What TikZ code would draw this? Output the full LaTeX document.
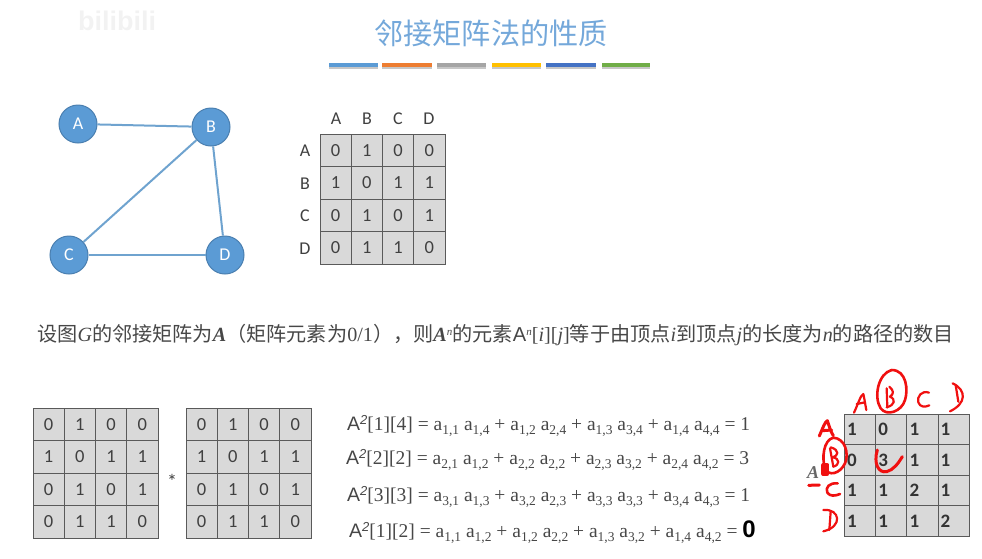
\documentclass[tikz,border=0pt]{standalone}
\usepackage{fontspec}
\setmainfont{Liberation Serif}
\newfontfamily\cjk{Noto Sans CJK SC}
\newfontfamily\lsans{Liberation Sans}
\newfontfamily\carl{Carlito}
\definecolor{nodeblue}{HTML}{5B9BD5}
\definecolor{nodeedge}{HTML}{4A7FB0}
\definecolor{edgeblue}{HTML}{6FA3CF}
\definecolor{titleblue}{HTML}{74A8DA}
\definecolor{cellgray}{HTML}{D9D9D9}
\definecolor{gridgray}{HTML}{5A5A5A}
\definecolor{txt}{HTML}{404040}
\definecolor{inkred}{HTML}{F01010}
\tikzset{
  vertex/.style={circle,draw=nodeedge,line width=1pt,fill=nodeblue,minimum size=38pt,inner sep=0pt,text=white,font=\carl\fontsize{18}{18}\selectfont},
  link/.style={draw=edgeblue,line width=2pt},
  cellbox/.style={draw=gridgray,line width=1pt,fill=cellgray,inner sep=0pt,text=txt,font=\carl\fontsize{18.5}{18.5}\selectfont},
  boldcell/.style={font=\carl\bfseries\fontsize{19}{19}\selectfont,text=black!80,text width=26pt,align=left},
  axislabel/.style={text=txt,font=\carl\fontsize{18}{18}\selectfont,inner sep=0pt},
  bar/.style={line width=4pt,line cap=butt},
  barshadow/.style={line width=4pt,draw=black!22},
  formula/.style={anchor=west,inner sep=0pt,text=black!72,font=\fontsize{19.5}{19.5}\selectfont},
  ink/.style={draw=inkred,line width=2.2pt,line cap=round,line join=round}
}
\newcommand{\subs}[1]{\raisebox{-3.5pt}{\fontsize{13.5}{13.5}\selectfont #1}}
\newcommand{\asq}{{\lsans A}\raisebox{6pt}{\lsans\itshape\fontsize{13}{13}\selectfont 2}}
\newcommand{\aterm}[1]{a\subs{#1}}
\newcommand{\zh}[1]{{\cjk #1}}
% name, x0, y0, cell w, cell h, extra style, rows
\newcommand{\gridmat}[7]{%
  \foreach \rw [count=\ri] in {#7}{%
    \foreach \vl [count=\ci] in \rw{%
      \node[cellbox,#6,minimum width=#4pt,minimum height=#5pt]
        (#1-\ri-\ci) at ({#2+(\ci-0.5)*#4},{#3+(\ri-0.5)*#5}) {\vl};
    }%
  }%
}
\begin{document}
\begin{tikzpicture}[x=1pt,y=-1pt]
\useasboundingbox (0,0) rectangle (982,558);
% watermark
\node[inner sep=0pt,text=black!5,font=\lsans\bfseries\fontsize{27}{27}\selectfont] (mark) at (117,21) {bilibili};
% title
\node[inner sep=0pt,text=titleblue,font=\cjk\fontsize{29.2}{29.2}\selectfont] (title) at (491,33) {邻接矩阵法的性质};
% colour bars
\foreach \xa/\xb/\cc [count=\i] in {329/378/5B9BD5,382/432/ED7D31,437/486/A5A5A5,492/541/FFC000,546/596/4472C4,602/650/70AD47}{
  \definecolor{barcol}{HTML}{\cc}
  \coordinate (s\i) at (\xa,66.5); \coordinate (t\i) at (\xb,66.5);
  \draw[barshadow] (s\i) -- (t\i);
  \coordinate (p\i) at (\xa,64.5); \coordinate (q\i) at (\xb,64.5);
  \draw[bar,draw=barcol] (p\i) -- (q\i);
}
% graph
\node[vertex] (A) at (78,124) {A};
\node[vertex] (B) at (211,127) {B};
\node[vertex] (C) at (69,255) {C};
\node[vertex] (D) at (225,255) {D};
\draw[link] (A) -- (B);
\draw[link] (B) -- (C);
\draw[link] (B) -- (D);
\draw[link] (C) -- (D);
% top matrix
\gridmat{top}{320}{134}{31.25}{32.5}{}{{0,1,0,0},{1,0,1,1},{0,1,0,1},{0,1,1,0}}
\foreach \n/\px in {A/336,B/367,C/398,D/429}{\node[axislabel] (col\n) at (\px,119) {\n};}
\foreach \n/\py in {A/151,B/184,C/216,D/249}{\node[axislabel] (row\n) at (305,\py) {\n};}
% caption
\node[anchor=west,inner sep=0pt,text=black!72,font=\fontsize{20.15}{20.5}\selectfont] (caption) at (37,335)
 {\zh{设图}\textit{G}\zh{的邻接矩阵为}\textbf{\textit{A}}\zh{（矩阵元素为}0/1\zh{），则}\textbf{\textit{A}}\raisebox{6pt}{\fontsize{11}{11}\selectfont\itshape n}\zh{的元素}{\lsans A}\raisebox{6pt}{\fontsize{11}{11}\selectfont\itshape n}[\textit{i}][\textit{j}]\zh{等于由顶点}\textit{i}\zh{到顶点}\textit{j}\zh{的长度为}\textit{n}\zh{的路径的数目}};
% bottom matrices
\gridmat{m1}{33}{408}{31.25}{32.5}{}{{0,1,0,0},{1,0,1,1},{0,1,0,1},{0,1,1,0}}
\node[inner sep=0pt,text=txt,font=\carl\fontsize{20}{20}\selectfont] (star) at (172,481) {*};
\gridmat{m2}{186}{408}{31.25}{32.5}{}{{0,1,0,0},{1,0,1,1},{0,1,0,1},{0,1,1,0}}
% formulas
\node[formula] (f1) at (347,426) {\asq[1][4] = \aterm{1,1} \aterm{1,4} + \aterm{1,2} \aterm{2,4} + \aterm{1,3} \aterm{3,4} + \aterm{1,4} \aterm{4,4} = 1};
\node[formula] (f2) at (346,460) {\asq[2][2] = \aterm{2,1} \aterm{1,2} + \aterm{2,2} \aterm{2,2} + \aterm{2,3} \aterm{3,2} + \aterm{2,4} \aterm{4,2} = 3};
\node[formula] (f3) at (347,497) {\asq[3][3] = \aterm{3,1} \aterm{1,3} + \aterm{3,2} \aterm{2,3} + \aterm{3,3} \aterm{3,3} + \aterm{3,4} \aterm{4,3} = 1};
\node[formula] (f4) at (349,532) {\asq[1][2] = \aterm{1,1} \aterm{1,2} + \aterm{1,2} \aterm{2,2} + \aterm{1,3} \aterm{3,2} + \aterm{1,4} \aterm{4,2} = {\lsans\bfseries\textcolor{black}{\fontsize{24}{24}\selectfont 0}}};
% right matrix
\gridmat{m3}{844.5}{414}{31.2}{30.6}{boldcell}{{1,0,1,1},{0,3,1,1},{1,1,2,1},{1,1,1,2}}
% faint printed A behind the handwriting
\node[inner sep=0pt,text=black!60,font=\bfseries\itshape\fontsize{18}{18}\selectfont] (oldA) at (813,473) {A};
% handwriting (in zoom-crop units)
\begin{scope}[shift={(790,370)},x=0.3333pt,y=-0.3333pt]
 \draw[ink] (192,128) .. controls (205,100) and (212,75) .. (220,72) .. controls (224,90) and (226,105) .. (229,120);
 \draw[ink] (200,102) -- (225,97);
 \draw[ink,line width=2.6pt] (305,0) .. controls (350,0) and (355,60) .. (345,90) .. controls (335,125) and (290,140) .. (272,115) .. controls (250,80) and (265,10) .. (305,0);
 \draw[ink] (290,55) -- (292,112);
 \draw[ink] (298,50) .. controls (312,62) and (312,72) .. (300,80) .. controls (318,88) and (315,105) .. (290,112);
 \draw[ink] (417,68) .. controls (395,60) and (380,80) .. (385,97) .. controls (390,112) and (405,112) .. (418,106);
 \draw[ink] (488,40) .. controls (530,60) and (530,100) .. (480,124);
 \draw[ink] (497,45) -- (505,95);
 \draw[ink,line width=3pt] (88,198) .. controls (98,175) and (105,155) .. (112,152) .. controls (118,170) and (122,185) .. (130,197);
 \draw[ink,line width=3pt] (97,182) -- (125,180);
 \draw[ink,line width=2.6pt] (130,203) .. controls (165,205) and (178,250) .. (165,280) .. controls (150,312) and (115,320) .. (105,295) .. controls (95,265) and (100,210) .. (130,203);
 \draw[ink] (120,235) -- (130,290);
 \draw[ink] (122,232) .. controls (150,240) and (145,258) .. (128,262) .. controls (150,265) and (150,285) .. (130,290);
 \draw[ink,line width=4pt] (100,285) -- (100,312) -- (112,312) -- (112,285) -- cycle;
 \draw[ink,line width=3pt] (56,346) -- (88,345);
 \draw[ink,line width=2.6pt] (143,340) .. controls (118,338) and (105,352) .. (112,368) .. controls (120,380) and (135,378) .. (150,372);
 \draw[ink] (100,420) .. controls (150,415) and (160,470) .. (100,484);
 \draw[ink] (122,425) -- (118,480);
 \draw[ink,line width=3pt] (262,240) .. controls (250,280) and (265,310) .. (290,305) .. controls (310,300) and (325,280) .. (337,260);
\end{scope}
\end{tikzpicture}
\end{document}
